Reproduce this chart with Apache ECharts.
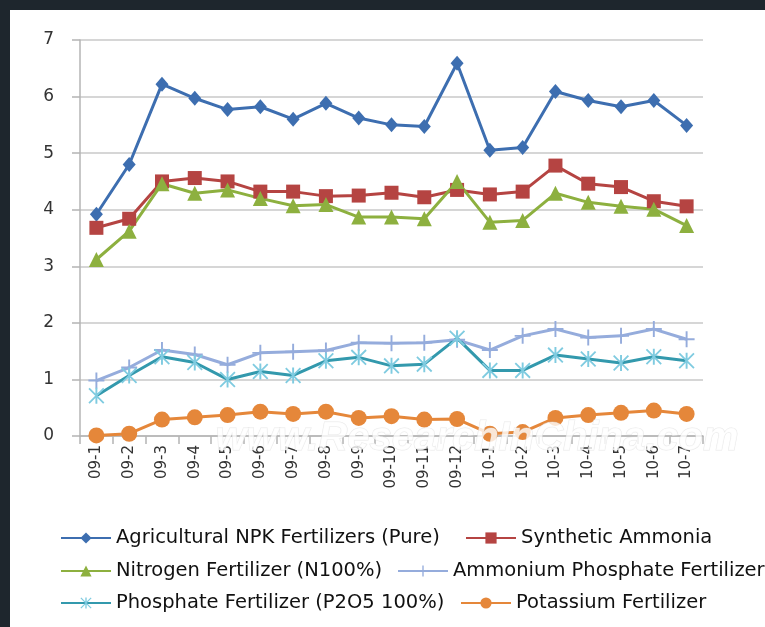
<!DOCTYPE html>
<html>
<head>
<meta charset="utf-8">
<script src="https://cdn.jsdelivr.net/npm/echarts@6/dist/echarts.min.js"></script>
<style>
  html, body { margin: 0; padding: 0; background: #1e262d; }
  #main { position: absolute; left: 10px; top: 10px; width: 755px; height: 617px; background: #fff; }
</style>
</head>
<body>
<div id="main"></div>
<script>
// 月份
const months = ['09-1', '09-2', '09-3', '09-4', '09-5', '09-6', '09-7', '09-8', '09-9', '09-10',
  '09-11', '09-12', '10-1', '10-2', '10-3', '10-4', '10-5', '10-6', '10-7']

// 各品种数值
const npk = [3.92, 4.80, 6.22, 5.97, 5.77, 5.82, 5.60, 5.88, 5.62, 5.50, 5.47, 6.59, 5.05, 5.10, 6.09, 5.93, 5.82, 5.93, 5.49]
const ammonia = [3.68, 3.84, 4.50, 4.56, 4.50, 4.32, 4.32, 4.24, 4.25, 4.30, 4.22, 4.35, 4.27, 4.32, 4.78, 4.46, 4.40, 4.15, 4.06]
const nitrogen = [3.12, 3.62, 4.46, 4.29, 4.35, 4.20, 4.07, 4.09, 3.87, 3.87, 3.84, 4.50, 3.78, 3.81, 4.29, 4.13, 4.06, 4.01, 3.72]
const ammoniumPhos = [0.98, 1.21, 1.52, 1.44, 1.26, 1.47, 1.49, 1.51, 1.65, 1.64, 1.65, 1.70, 1.52, 1.77, 1.89, 1.74, 1.77, 1.89, 1.71]
const phosphate = [0.71, 1.07, 1.40, 1.30, 1.00, 1.14, 1.07, 1.33, 1.39, 1.24, 1.27, 1.73, 1.16, 1.16, 1.43, 1.36, 1.29, 1.40, 1.33]
const potassium = [0.01, 0.04, 0.29, 0.33, 0.37, 0.43, 0.39, 0.43, 0.32, 0.35, 0.29, 0.30, 0.04, 0.07, 0.32, 0.37, 0.41, 0.45, 0.39]

const yTicks = [0, 1, 2, 3, 4, 5, 6, 7]

const names = ['Agricultural NPK Fertilizers (Pure)', 'Synthetic Ammonia', 'Nitrogen Fertilizer (N100%)',
  'Ammonium Phosphate Fertilizer', 'Phosphate Fertilizer (P2O5 100%)', 'Potassium Fertilizer']

// 自定义符号: 加号和星号
const plusPath = 'path://M4.4,0h1.2v10h-1.2z M0,4.4h10v1.2h-10z'
const starPath = 'path://M0,0.8L0.8,0L10,9.2L9.2,10Z M9.2,0L10,0.8L0.8,10L0,9.2Z M4.4,0h1.2v10h-1.2z'

function makeLine(name, data, color, symbol, size, symColor) {
  return {
    name: name,
    type: 'line',
    data: data,
    symbol: symbol,
    symbolSize: size,
    showAllSymbol: true,
    lineStyle: { color: color, width: 3 },
    itemStyle: { color: symColor || color },
    z: 3
  }
}

// 每个图例单独摆放
function legendAt(name, left, top) {
  return {
    data: [name],
    left: left,
    top: top,
    padding: 0,
    itemWidth: 50,
    itemHeight: 14,
    textStyle: { fontFamily: 'DejaVu Sans', fontSize: 19.5, color: '#111' }
  }
}

var chart = echarts.init(document.getElementById('main'))
chart.setOption({
  animation: false,
  grid: { left: 70, right: 62, top: 30, bottom: 191 },
  legend: [
    legendAt(names[0], 50, 518),
    legendAt(names[1], 455, 518),
    legendAt(names[2], 50, 551),
    legendAt(names[3], 387, 551),
    legendAt(names[4], 50, 583),
    legendAt(names[5], 450, 583)
  ],
  xAxis: {
    type: 'category',
    data: months,
    boundaryGap: true,
    axisLine: { lineStyle: { color: '#b4b4b4', width: 1.5 } },
    axisTick: { show: true, length: 8, lineStyle: { color: '#b4b4b4', width: 1.5 } },
    axisLabel: { rotate: 90, fontFamily: 'DejaVu Sans', fontSize: 15, color: '#333', margin: 9 }
  },
  yAxis: {
    type: 'value',
    min: yTicks[0],
    max: yTicks[yTicks.length - 1],
    interval: 1,
    axisLine: { show: true, lineStyle: { color: '#b4b4b4', width: 1.5 } },
    axisTick: { show: true, length: 8, lineStyle: { color: '#b4b4b4', width: 1.5 } },
    axisLabel: { fontFamily: 'DejaVu Sans', fontSize: 17, color: '#333', margin: 26 },
    splitLine: { lineStyle: { color: '#c8c8c8', width: 1.5 } }
  },
  series: [
    makeLine(names[0], npk, '#3d6eb0', 'diamond', [13, 15]),
    makeLine(names[1], ammonia, '#b54442', 'rect', 14),
    makeLine(names[2], nitrogen, '#8db03f', 'triangle', 15),
    makeLine(names[3], ammoniumPhos, '#95acdc', plusPath, 16),
    makeLine(names[4], phosphate, '#3399ad', starPath, 16, '#7fcbe0'),
    makeLine(names[5], potassium, '#e5873a', 'circle', 16)
  ],
  graphic: [{
    type: 'text',
    left: 205,
    top: 408,
    z: 100,
    style: {
      text: 'www.ResearchInChina.com',
      font: 'italic bold 40px "Liberation Sans"',
      fill: 'rgba(255,255,255,0.8)',
      stroke: 'rgba(210,210,210,0.5)',
      lineWidth: 1,
      shadowColor: 'rgba(0,0,0,0.2)',
      shadowBlur: 4,
      shadowOffsetX: 1,
      shadowOffsetY: 1
    }
  }]
})
</script>
</body>
</html>
